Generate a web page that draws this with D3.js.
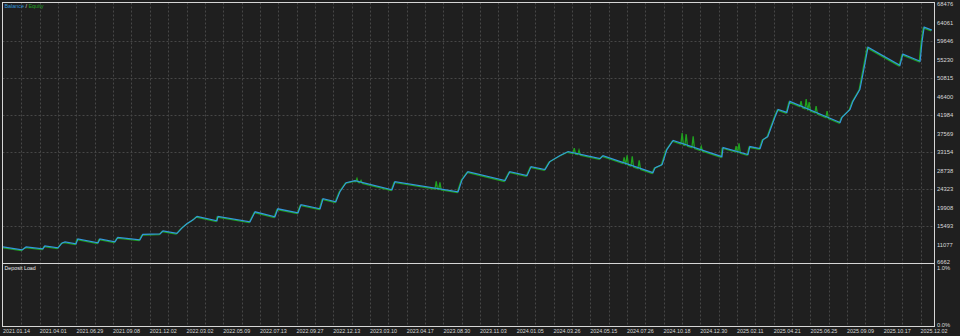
<!DOCTYPE html>
<html><head><meta charset="utf-8">
<script src="https://cdn.jsdelivr.net/npm/d3@7"></script>
<style>body{margin:0;background:#1f1f1f}svg{display:block}</style>
</head><body>
<script>
// ---- data ----
const xLabels = ["2021.01.14","2021.04.01","2021.06.29","2021.09.08","2021.12.02","2022.03.02","2022.05.09","2022.07.13","2022.09.27","2022.12.13","2023.03.10","2023.04.17","2023.08.30","2023.11.03","2024.01.05","2024.03.26","2024.05.15","2024.07.26","2024.10.18","2024.12.30","2025.02.11","2025.04.21","2025.06.25","2025.09.09","2025.10.17","2025.12.02"];
const yTicks = [68476,64061,59646,55230,50815,46400,41984,37569,33154,28738,24323,19908,15493,11077,6662];
const loadTicks = ["1.0%","0.0%"];
// balance curve: deal sequence position and balance value
const balanceIdx = [0,5.2,6.3,10.9,11.4,15.0,16.1,16.9,19.9,20.4,25.9,26.4,30.5,31.3,37.3,38.1,42.8,43.6,47.4,48.8,50.1,51.8,52.9,58.3,58.6,67.3,68.7,74.1,74.9,80.4,81.2,86.4,87.2,90.7,91.8,93.5,95.9,106.0,106.8,124.0,125.1,126.7,136.8,138.1,142.8,143.9,147.7,149.0,151.8,154.0,162.7,163.5,177.1,177.7,179.6,180.9,182.6,195.9,196.2,203.0,203.5,206.3,207.1,208.4,210.4,211.2,213.6,214.4,228.1,228.6,230.8,231.6,233.5,234.3,235.7,244.4,245.2,249.9,250.4,251.0,253.1];
const balanceVal = [10500,9780,10500,10020,10735,10256,11454,11694,11215,12412,11454,12412,11694,12772,12173,13491,13611,14329,13730,15048,16006,16965,17803,16725,17803,16486,18880,17683,19600,18641,20558,19600,21996,21278,23674,25830,26310,24153,26070,23674,26550,28466,26310,28466,27507,29664,28945,30862,32299,33258,31581,32299,28226,29424,30143,33737,35893,32060,34216,32539,34455,33976,36133,36852,41644,43321,42602,45238,40206,41404,43321,45238,48113,51707,58176,53863,56499,54821,59373,62967,62248];
// equity peaks above balance (floating profit)
const equitySpikeIdx = [96.7,97.8,118.3,119.3,155.9,157.2,169.5,170.3,171.7,173.6,185.3,186.4,188.3,190.5,200.0,200.8,217.7,219.1,219.9,221.8,224.8];
const equitySpikeVal = [27028,26549,26310,26070,34216,33737,32060,32539,32299,31341,37810,37570,37091,34695,34695,35414,45478,45957,45238,44280,43082];

// ---- layout ----
const W = 960, H = 336;
const L = 2.5, R = 934.5, T = 2.5, SEP = 263.5, B = 326.5;
const bg = "#1f1f1f", grid = "#474747", border = "#d6d6d6", txt = "#d8d8d8";
const balCol = "#3398dc", eqCol = "#20a020";

const svg = d3.select("body").append("svg").attr("width", W).attr("height", H);
svg.append("rect").attr("width", W).attr("height", H).attr("fill", bg);

const x = d3.scaleLinear().domain([0, 250]).range([3, 920.5]);
const y = d3.scaleLinear().domain([6662, 68476]).range([263, 4]);
const yLoad = d3.scaleLinear().domain([0, 1]).range([325, 268]);

// vertical grid (every half label step)
const vg = d3.range(5, 255, 5);
svg.append("g").selectAll("line").data(vg).join("line")
  .attr("x1", d => Math.round(x(d)) + 0.5).attr("x2", d => Math.round(x(d)) + 0.5)
  .attr("y1", T).attr("y2", B)
  .attr("stroke", grid).attr("stroke-width", 1).attr("stroke-dasharray", "2,2");
// horizontal grid (every other tick)
svg.append("g").selectAll("line").data(yTicks.filter((d, i) => i % 2 === 0 && i > 0 && i < yTicks.length - 1)).join("line")
  .attr("x1", L).attr("x2", R)
  .attr("y1", d => Math.round(y(d)) + 0.5).attr("y2", d => Math.round(y(d)) + 0.5)
  .attr("stroke", grid).attr("stroke-width", 1).attr("stroke-dasharray", "2,2");

// equity series: balance plus narrow floating-profit spikes
const balPts = balanceIdx.map((d, i) => [d, balanceVal[i]]);
const balAt = d3.scaleLinear().domain(balanceIdx).range(balanceVal);
let eqPts = balPts.slice();
equitySpikeIdx.forEach((d, i) => {
  eqPts.push([d - 0.35, balAt(d - 0.35)]);
  eqPts.push([d, equitySpikeVal[i]]);
  eqPts.push([d + 0.35, balAt(d + 0.35)]);
});
eqPts.sort((a, b) => a[0] - b[0]);

const line = d3.line().x(d => x(d[0])).y(d => y(d[1]));
svg.append("clipPath").attr("id", "c").append("rect")
  .attr("x", L).attr("y", T).attr("width", R - L).attr("height", SEP - T);
svg.append("path").datum(eqPts).attr("d", line)
  .attr("fill", "none").attr("stroke", eqCol).attr("stroke-width", 1.3)
  .attr("transform", "translate(-0.9,0.7)").attr("clip-path", "url(#c)");
svg.append("path").datum(balPts).attr("d", line)
  .attr("fill", "none").attr("stroke", balCol).attr("stroke-width", 1.2)
  .attr("clip-path", "url(#c)");

// borders
const bd = svg.append("g").attr("stroke", border).attr("stroke-width", 1).attr("fill", "none");
bd.append("rect").attr("x", L).attr("y", T).attr("width", R - L).attr("height", SEP - T);
bd.append("rect").attr("x", L).attr("y", SEP).attr("width", R - L).attr("height", B - SEP);

const font = "Liberation Sans, Arial, sans-serif";
// y labels
svg.append("g").selectAll("text").data(yTicks).join("text")
  .attr("x", 937).attr("y", (d, i) => i === yTicks.length - 1 ? y(d) - 1 : y(d)).attr("dy", "0.35em")
  .attr("font-family", font).attr("font-size", 5.8)
  .attr("fill", txt).text(d => d);
// deposit load labels
svg.append("g").selectAll("text").data(loadTicks).join("text")
  .attr("x", 937).attr("y", (d, i) => yLoad(1 - i)).attr("dy", "0.35em")
  .attr("font-family", font).attr("font-size", 5.8)
  .attr("fill", txt).text(d => d);
// x labels
svg.append("g").selectAll("text").data(xLabels).join("text")
  .attr("x", (d, i) => x(i * 10)).attr("y", 331).attr("dy", "0.35em")
  .attr("font-family", font).attr("font-size", 5.4)
  .attr("fill", txt).text(d => d);

// legend
const lg = svg.append("text").attr("x", 4.5).attr("y", 6.5).attr("dy", "0.35em")
  .attr("font-family", font).attr("font-size", 5.4);
lg.append("tspan").attr("fill", balCol).text("Balance");
lg.append("tspan").attr("fill", "#e0e0e0").text(" / ");
lg.append("tspan").attr("fill", eqCol).text("Equity");

svg.append("text").attr("x", 4.5).attr("y", 268).attr("dy", "0.35em")
  .attr("font-family", font).attr("font-size", 5.3)
  .attr("fill", "#e8e8e8").text("Deposit Load");
</script>
</body></html>
